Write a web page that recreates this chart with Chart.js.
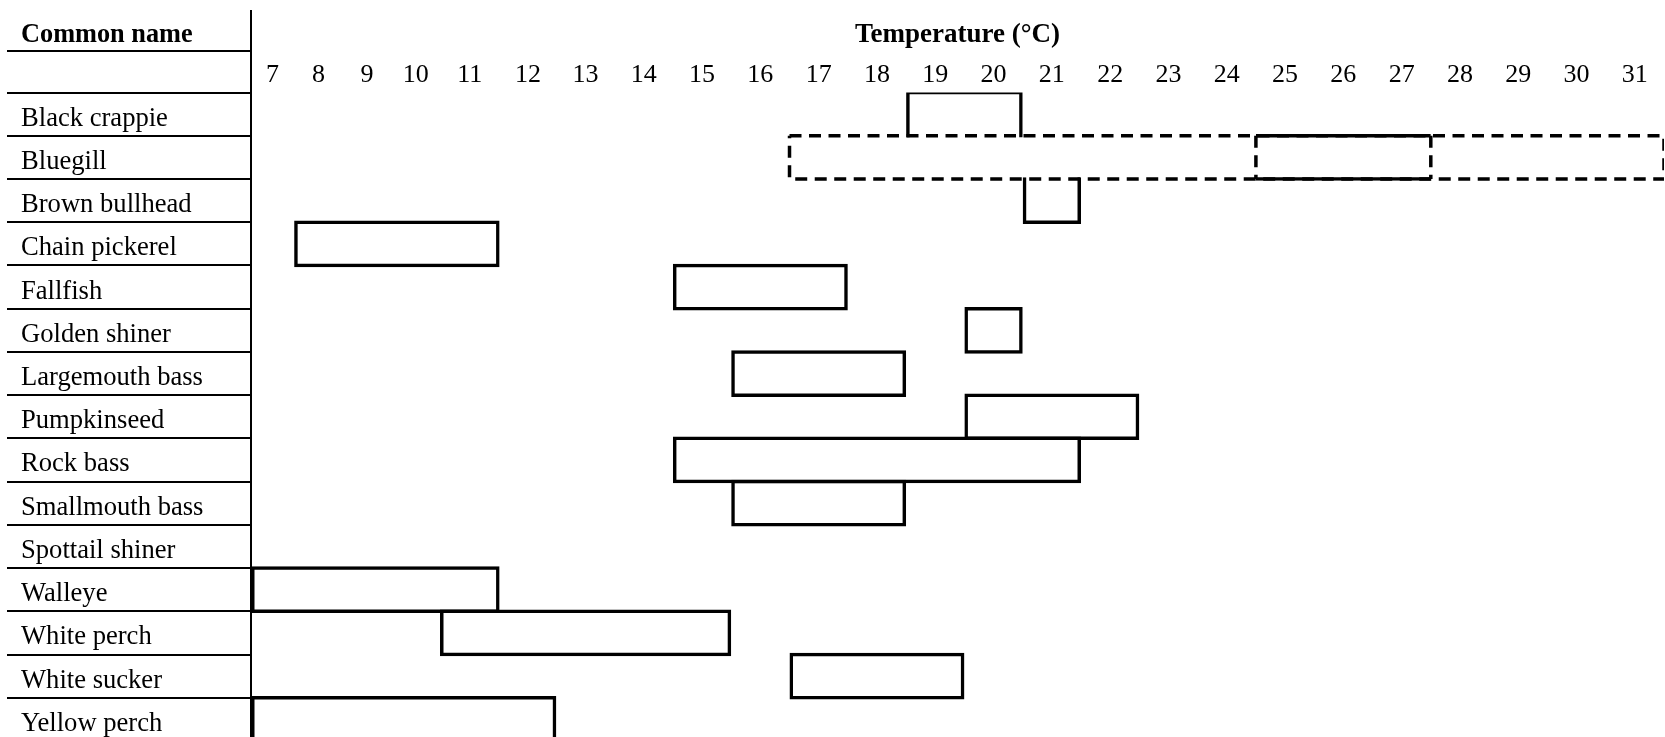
<!DOCTYPE html>
<html>
<head>
<meta charset="utf-8">
<script src="https://cdn.jsdelivr.net/npm/chart.js@4.4.1/dist/chart.umd.min.js"></script>
<style>
  html, body { margin: 0; padding: 0; background: #ffffff; overflow: hidden; }
  #wrap { width: 1665px; height: 745px; }
</style>
</head>
<body>
<div id="wrap"><canvas id="chart" width="1665" height="745"></canvas></div>
<script>
// ---------------- data ----------------
const species = [
  'Black crappie', 'Bluegill', 'Brown bullhead', 'Chain pickerel', 'Fallfish',
  'Golden shiner', 'Largemouth bass', 'Pumpkinseed', 'Rock bass', 'Smallmouth bass',
  'Spottail shiner', 'Walleye', 'White perch', 'White sucker', 'Yellow perch'
];
// preferred temperature range (°C, first and last table column covered)
const preferredLow  = [19, 25, 21,  8, 15, 20, 16, 20, 15, 16, null,  7, 11, 17,  7];
const preferredHigh = [20, 27, 21, 11, 17, 20, 18, 22, 21, 18, null, 11, 15, 19, 12];
// wider (dashed) range
const dashedLow  = [null, 17, null, null, null, null, null, null, null, null, null, null, null, null, null];
const dashedHigh = [null, 31, null, null, null, null, null, null, null, null, null, null, null, null, null];
// temperature columns / tick labels
const temperatureTicks = [7, 8, 9, 10, 11, 12, 13, 14, 15, 16, 17, 18, 19, 20, 21, 22, 23, 24, 25, 26, 27, 28, 29, 30, 31];

// ------------- layout helpers (not data) -------------
// relative widths of the first (narrower/wider) table columns; all others are 1
const leadingColumnWidths = [0.74, 0.834, 0.834, 0.834, 1.022, 0.973];
const FONT = '"Liberation Serif", "Times New Roman", serif';
const LINE = 3.5;

// A linear temperature scale whose columns follow the table's column widths
const LinearBase = Chart.LinearScale || Chart.registry.getScale('linear');
class TableColumnScale extends LinearBase {
  _colWidth(k) { return k < leadingColumnWidths.length ? leadingColumnWidths[k] : 1; }
  _toDecimal(v) {
    const lo = this.min, hi = this.max;
    let total = 0, acc = 0, k = 0;
    for (let e = lo; e < hi - 1e-9; e += 1, k++) {
      const w = this._colWidth(k);
      if (v >= e + 1) acc += w;
      else if (v > e) acc += w * (v - e);
      total += w;
    }
    return total ? acc / total : 0;
  }
  getPixelForValue(value) {
    if (value === null || value === undefined || Number.isNaN(+value)) return NaN;
    return this.getPixelForDecimal(this._toDecimal(+value));
  }
  getValueForPixel(pixel) {
    const d = this.getDecimalForPixel(pixel);
    const lo = this.min, hi = this.max;
    let total = 0, k = 0;
    for (let e = lo; e < hi - 1e-9; e += 1, k++) total += this._colWidth(k);
    let target = d * total, acc = 0; k = 0;
    for (let e = lo; e < hi - 1e-9; e += 1, k++) {
      const w = this._colWidth(k);
      if (acc + w >= target) return e + (target - acc) / w;
      acc += w;
    }
    return hi;
  }
}
TableColumnScale.id = 'tableColumn';
TableColumnScale.defaults = LinearBase.defaults;
Chart.register(TableColumnScale);

// ------------- datasets built from the arrays -------------
const preferredBars = species.map((_, i) =>
  preferredLow[i] == null ? null : [preferredLow[i] - 0.5, preferredHigh[i] + 0.5]);

const dashedPath = [];
species.forEach((_, i) => {
  if (dashedLow[i] == null) return;
  const a = dashedLow[i] - 0.5, b = dashedHigh[i] + 0.5;
  const top = i - 0.5, bot = i + 0.5;
  dashedPath.push({x: a, y: top}, {x: b, y: top}, {x: b, y: bot}, {x: a, y: bot}, {x: a, y: top}, {x: null, y: null});
  if (preferredLow[i] != null) {
    const p1 = preferredLow[i] - 0.5, p2 = preferredHigh[i] + 0.5;
    dashedPath.push({x: p1, y: top}, {x: p1, y: bot}, {x: null, y: null});
    dashedPath.push({x: p2, y: top}, {x: p2, y: bot}, {x: null, y: null});
  }
});

function overlapsDashed(row, i) {
  if (row < 0 || row >= species.length || dashedLow[row] == null || preferredLow[i] == null) return false;
  return preferredLow[i] >= dashedLow[row] && preferredHigh[i] <= dashedHigh[row];
}

const tableFrame = {
  id: 'tableFrame',
  afterDraw(chart) {
    const {ctx, chartArea} = chart;
    const y = chart.scales.y;
    const tl = y.options.grid.tickLength;
    const xr = Math.round(y.right);
    ctx.save();
    ctx.strokeStyle = '#000';
    ctx.lineWidth = 2;
    ctx.beginPath();
    ctx.moveTo(xr, 10);
    ctx.lineTo(xr, chartArea.top + 1);
    ctx.stroke();
    ctx.beginPath();
    ctx.moveTo(y.right - tl, 51);
    ctx.lineTo(xr, 51);
    ctx.stroke();
    ctx.fillStyle = '#000';
    ctx.font = 'bold 26.3px ' + FONT;
    ctx.textAlign = 'left';
    ctx.textBaseline = 'alphabetic';
    ctx.fillText('Common name', y.left, 42.3);
    ctx.restore();
  }
};

new Chart(document.getElementById('chart'), {
  type: 'bar',
  data: {
    labels: species,
    datasets: [
      {
        type: 'bar',
        label: 'Preferred temperature',
        data: preferredBars,
        backgroundColor: 'rgba(0,0,0,0)',
        borderColor: '#000',
        borderSkipped: false,
        inflateAmount: 0,
        barPercentage: 1.081,
        categoryPercentage: 1,
        grouped: false,
        order: 0,
        borderWidth: (ctx) => {
          const i = ctx.dataIndex;
          const w = {top: LINE, right: LINE, bottom: LINE, left: LINE};
          if (dashedLow[i] != null) { w.left = 0; w.right = 0; }
          if (overlapsDashed(i + 1, i)) w.bottom = 0;
          if (overlapsDashed(i - 1, i)) w.top = 0;
          return w;
        }
      },
      {
        type: 'line',
        label: 'Range',
        data: dashedPath,
        parsing: false,
        indexAxis: 'y',
        borderColor: '#000',
        borderWidth: LINE,
        borderDash: [12, 7.5],
        borderCapStyle: 'butt',
        pointRadius: 0,
        fill: false,
        tension: 0,
        spanGaps: false,
        order: 1
      }
    ]
  },
  options: {
    indexAxis: 'y',
    responsive: false,
    animation: false,
    devicePixelRatio: 1,
    events: [],
    layout: { autoPadding: false, padding: { left: 21, right: 1, top: 0, bottom: 4 } },
    plugins: {
      legend: { display: false },
      tooltip: { enabled: false }
    },
    scales: {
      x: {
        type: 'tableColumn',
        position: 'top',
        min: 6.5,
        max: 31.5,
        offset: false,
        grid: { display: false, drawTicks: false, tickLength: 0 },
        border: { display: false },
        afterBuildTicks: (scale) => { scale.ticks = temperatureTicks.map(v => ({value: v})); },
        afterFit: (scale) => {
          scale.height = 92.5;
          scale.paddingLeft = 0; scale.paddingRight = 0;
          scale.paddingTop = 0; scale.paddingBottom = 0;
        },
        ticks: {
          autoSkip: false,
          maxRotation: 0,
          minRotation: 0,
          padding: 2,
          color: '#000',
          font: { family: FONT, size: 26 },
          callback: (v) => String(v)
        },
        title: {
          display: true,
          text: 'Temperature (°C)',
          color: '#000',
          font: { family: FONT, size: 27, weight: 'bold' },
          padding: { top: 19, bottom: 0 }
        }
      },
      y: {
        type: 'category',
        position: 'left',
        offset: true,
        grid: {
          display: true,
          offset: true,
          drawOnChartArea: false,
          drawTicks: true,
          tickLength: 244,
          tickWidth: 2,
          lineWidth: 2,
          tickColor: '#000',
          color: '#000'
        },
        border: { display: true, color: '#000', width: 2 },
        afterFit: (scale) => {
          scale.width = 230;
          scale.paddingTop = 0; scale.paddingBottom = 0;
          scale.paddingLeft = 0; scale.paddingRight = 0;
        },
        ticks: {
          autoSkip: false,
          crossAlign: 'far',
          labelOffset: 4.5,
          color: '#000',
          font: { family: FONT, size: 26.6 }
        }
      }
    }
  },
  plugins: [tableFrame]
});
</script>
</body>
</html>
